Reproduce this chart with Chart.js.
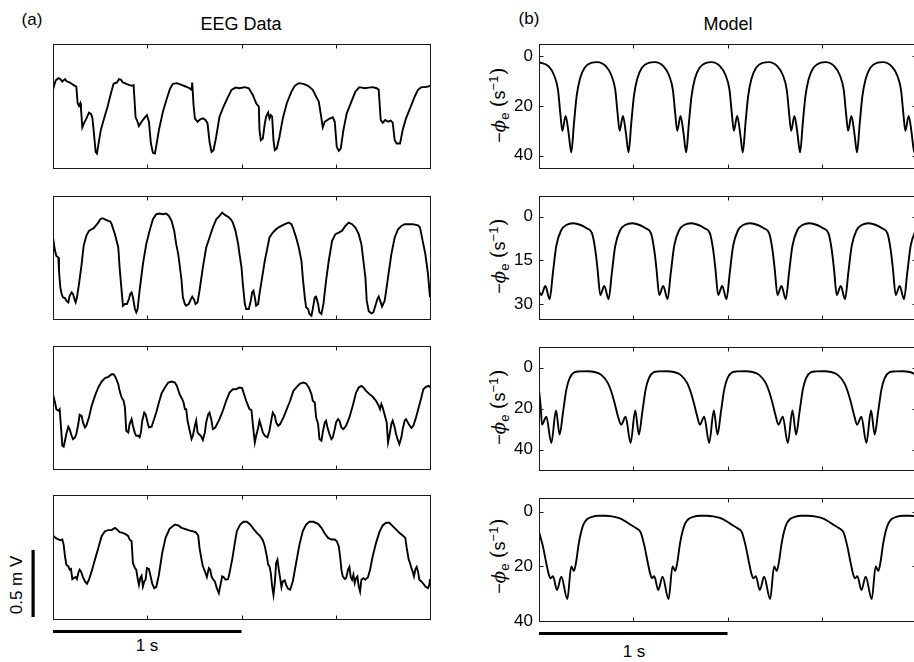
<!DOCTYPE html>
<html>
<head>
<meta charset="utf-8">
<script src="https://cdn.jsdelivr.net/npm/chart.js@4.4.1/dist/chart.umd.min.js"></script>
<style>
html, body { margin: 0; padding: 0; width: 914px; height: 662px; overflow: hidden; background: #fff; }
body { position: relative; font-family: "Liberation Sans", Arial, sans-serif; color: #000; }
canvas { position: absolute; }
.t { position: absolute; font-size: 17px; white-space: nowrap; transform: translate(-50%, -50%); }
.t.big { font-size: 18px; }
.yl { position: absolute; font-size: 18px; white-space: nowrap; transform: translate(-50%, -50%) rotate(-90deg); }
.yl i { font-family: "DejaVu Serif", serif; }
.yl sub, .yl sup { font-size: 13px; }
.yl .p { font-family: "DejaVu Serif", serif; font-size: 21px; }
</style>
</head>
<body>
<div class="t" style="left:32px; top:20px">(a)</div>
<div class="t big" style="left:241px; top:24px">EEG Data</div>
<div class="t" style="left:529px; top:19px">(b)</div>
<div class="t big" style="left:728px; top:24px">Model</div>
<div class="yl" style="left:17px; top:585px; font-size:17px">0.5 m V</div>
<div class="t" style="left:147px; top:646px">1 s</div>
<div class="t" style="left:634px; top:652px">1 s</div>
<div class="yl" style="left:499px; top:105px">−<i>ϕ</i><sub>e</sub> <span class="p">(</span>s<sup>−1</sup><span class="p">)</span></div>
<div class="yl" style="left:499px; top:256px">−<i>ϕ</i><sub>e</sub> <span class="p">(</span>s<sup>−1</sup><span class="p">)</span></div>
<div class="yl" style="left:499px; top:407px">−<i>ϕ</i><sub>e</sub> <span class="p">(</span>s<sup>−1</sup><span class="p">)</span></div>
<div class="yl" style="left:499px; top:556px">−<i>ϕ</i><sub>e</sub> <span class="p">(</span>s<sup>−1</sup><span class="p">)</span></div>

<script>
// sample rate of the traces (samples per second); x values below are sample indices
const FS = 283;
const xTickSec = [0.5, 1, 1.5];

// EEG traces, [sample, amplitude in µV above the panel floor]
const eegA = [[0,583],[4,653],[8,670],[11,663],[14,645],[18,663],[21,645],[25,638],[29,625],[33,613],[35,608],[37,483],[39,463],[41,483],[42,445],[44,303],[47,338],[50,368],[54,413],[57,403],[59,378],[61,283],[64,120],[66,108],[68,170],[72,288],[76,358],[82,458],[87,558],[91,628],[96,638],[99,663],[102,658],[105,638],[111,625],[118,613],[121,618],[124,378],[126,358],[129,313],[133,345],[138,378],[141,395],[144,345],[147,183],[150,113],[153,108],[155,163],[159,283],[165,420],[171,520],[176,595],[180,628],[186,633],[193,620],[199,608],[205,595],[208,583],[209,638],[211,470],[213,370],[217,345],[221,363],[225,370],[229,358],[232,333],[235,195],[238,120],[241,133],[245,233],[250,383],[256,458],[263,533],[268,583],[274,600],[280,595],[288,603],[294,595],[300,545],[305,483],[309,458],[310,283],[312,208],[315,220],[318,333],[320,383],[323,413],[325,370],[327,395],[329,383],[331,208],[333,133],[336,145],[340,233],[345,370],[351,483],[358,570],[363,613],[369,633],[376,628],[383,613],[390,583],[395,533],[399,495],[403,370],[405,303],[408,345],[412,358],[416,370],[420,378],[423,345],[426,158],[429,128],[432,145],[436,283],[441,408],[448,495],[454,570],[460,603],[468,595],[474,600],[480,603],[486,595],[489,583],[492,358],[495,338],[499,358],[503,345],[507,353],[510,338],[513,208],[516,183],[521,183],[525,283],[530,370],[536,445],[543,533],[548,583],[553,603],[559,603],[563,608],[566,613]];

const eegB = [[0,613],[3,513],[5,475],[8,463],[9,363],[11,238],[13,188],[15,163],[18,158],[20,138],[23,125],[25,175],[28,200],[30,188],[33,138],[34,125],[36,163],[39,263],[43,413],[46,550],[50,625],[54,663],[58,675],[61,683],[64,700],[68,725],[71,750],[74,758],[78,750],[83,738],[86,733],[88,713],[93,638],[98,538],[100,388],[103,213],[105,100],[108,113],[111,113],[114,150],[116,188],[118,200],[120,163],[123,75],[125,50],[127,75],[130,213],[135,413],[140,563],[145,663],[150,750],[155,788],[160,793],[165,788],[170,793],[174,775],[178,738],[182,663],[185,563],[188,488],[190,413],[193,288],[195,163],[198,113],[200,100],[204,113],[207,150],[209,168],[212,143],[214,113],[217,125],[220,213],[225,388],[230,538],[235,613],[240,688],[245,750],[250,775],[254,800],[258,783],[263,768],[267,750],[270,725],[274,663],[278,563],[280,488],[283,388],[285,263],[288,113],[290,75],[294,75],[297,138],[299,200],[301,213],[303,163],[305,100],[308,113],[310,188],[314,313],[318,438],[322,538],[325,613],[330,650],[335,675],[340,693],[348,713],[354,725],[358,713],[361,675],[365,613],[369,538],[373,438],[375,313],[378,163],[380,88],[383,75],[385,38],[388,25],[390,75],[393,163],[395,168],[398,113],[400,50],[403,38],[406,113],[410,288],[414,438],[419,588],[424,638],[429,650],[434,663],[439,700],[444,725],[449,713],[454,688],[459,638],[463,563],[466,438],[469,313],[471,138],[474,58],[478,43],[481,50],[484,100],[487,150],[489,168],[492,125],[494,93],[498,138],[503,313],[508,488],[513,613],[518,675],[523,700],[528,713],[533,713],[540,713],[548,705],[551,688],[555,588],[559,488],[563,338],[566,163]];

const eegC = [[0,563],[3,500],[5,450],[8,438],[10,450],[12,313],[14,175],[16,168],[18,213],[20,263],[23,318],[25,300],[28,250],[30,225],[33,238],[35,263],[38,338],[40,408],[43,400],[45,350],[48,313],[50,325],[54,388],[58,475],[63,550],[68,613],[73,658],[78,683],[83,693],[88,713],[91,713],[94,688],[98,638],[100,588],[103,538],[106,513],[108,463],[110,288],[113,275],[115,338],[118,375],[120,325],[123,268],[125,250],[128,250],[130,238],[132,275],[134,363],[137,425],[139,413],[142,350],[144,313],[148,318],[151,363],[155,425],[159,500],[163,568],[168,613],[173,650],[178,658],[183,650],[186,625],[190,563],[194,525],[196,500],[198,450],[200,450],[202,363],[205,293],[208,225],[210,250],[213,325],[215,363],[217,275],[219,263],[222,250],[225,218],[228,275],[230,350],[233,413],[235,425],[238,363],[240,300],[243,308],[245,325],[250,375],[255,438],[260,513],[265,575],[270,600],[275,600],[280,613],[284,608],[286,575],[290,513],[293,475],[295,450],[298,443],[300,338],[303,200],[305,250],[308,308],[310,363],[313,313],[315,275],[318,250],[322,238],[325,288],[328,375],[330,425],[333,400],[335,350],[338,325],[341,338],[346,388],[351,450],[356,513],[361,588],[366,618],[371,643],[376,650],[380,643],[384,613],[388,563],[390,513],[393,500],[395,388],[398,338],[400,225],[403,213],[405,275],[408,350],[410,363],[412,313],[415,263],[418,225],[420,238],[423,300],[425,350],[428,375],[430,363],[433,313],[436,300],[440,325],[445,388],[450,475],[455,575],[459,613],[463,625],[466,613],[470,588],[475,563],[480,543],[485,513],[489,475],[491,450],[493,488],[495,463],[497,425],[499,388],[501,350],[503,200],[505,250],[508,338],[510,363],[513,313],[515,263],[518,213],[520,188],[523,238],[525,300],[528,363],[530,375],[534,338],[538,308],[541,325],[545,388],[549,463],[553,538],[556,600],[560,618],[564,625],[566,613]];

const eegD = [[0,623],[4,605],[8,593],[11,588],[14,593],[16,555],[18,468],[20,405],[23,393],[25,368],[27,373],[29,298],[31,305],[34,313],[36,298],[38,343],[40,368],[42,355],[45,313],[48,280],[51,263],[54,293],[58,355],[63,443],[68,530],[73,618],[78,655],[83,663],[88,663],[93,680],[96,668],[100,648],[105,643],[110,630],[113,618],[115,593],[118,580],[120,418],[123,380],[125,368],[127,305],[129,255],[131,305],[133,323],[135,243],[137,280],[139,293],[141,380],[144,373],[146,330],[149,263],[152,230],[155,238],[159,330],[164,493],[169,605],[175,673],[183,705],[188,698],[193,680],[198,673],[203,663],[209,655],[214,648],[218,623],[220,530],[223,443],[225,393],[228,355],[231,313],[234,380],[236,368],[238,318],[240,298],[243,280],[246,230],[249,193],[251,243],[254,318],[256,313],[259,293],[263,298],[265,343],[269,443],[273,568],[276,655],[281,705],[286,725],[291,725],[296,705],[301,673],[306,643],[311,618],[315,588],[318,543],[321,468],[323,405],[325,393],[327,343],[329,243],[331,180],[333,268],[335,418],[337,443],[339,368],[341,305],[343,238],[345,280],[348,288],[350,255],[353,225],[356,218],[360,280],[365,418],[370,555],[375,655],[380,705],[385,725],[391,725],[398,710],[403,680],[408,638],[413,605],[418,593],[423,593],[426,580],[429,543],[431,468],[433,368],[435,318],[438,298],[440,305],[443,368],[445,388],[447,313],[449,293],[451,330],[453,268],[455,305],[457,318],[459,243],[461,205],[463,293],[466,305],[469,293],[473,313],[476,368],[480,468],[485,568],[490,648],[495,698],[500,718],[505,718],[510,693],[515,668],[520,643],[525,623],[529,605],[531,530],[534,443],[536,418],[538,380],[540,355],[542,318],[544,368],[546,388],[548,355],[550,293],[553,280],[556,263],[559,243],[563,230],[565,255],[566,298]];

// model traces, [sample, -phi_e in 1/s]
const modelA = [[0,2.3],[14.5,4],[22.5,7.5],[28.5,13.5],[32,23],[35,30],[40,24],[44.5,31],[48.5,38.7],[52.5,27],[56.5,16],[61.5,9],[68.5,4.6],[78.5,2.6],
  [87.5,2.3],[100.5,4],[108.5,7.5],[114.5,13.5],[118,23],[121,30],[126,24],[130.5,31],[134.5,38.7],[138.5,27],[142.5,16],[147.5,9],[154.5,4.6],[164.5,2.6],
  [174,2.3],[187,4],[195,7.5],[201,13.5],[204.5,23],[207.5,30],[212.5,24],[217,31],[221,38.7],[225,27],[229,16],[234,9],[241,4.6],[251,2.6],
  [259,2.3],[272,4],[280,7.5],[286,13.5],[289.5,23],[292.5,30],[297.5,24],[302,31],[306,38.7],[310,27],[314,16],[319,9],[326,4.6],[336,2.6],
  [345,2.3],[358,4],[366,7.5],[372,13.5],[375.5,23],[378.5,30],[383.5,24],[388,31],[392,38.7],[396,27],[400,16],[405,9],[412,4.6],[422,2.6],
  [430.5,2.3],[443.5,4],[451.5,7.5],[457.5,13.5],[461,23],[464,30],[469,24],[473.5,31],[477.5,38.7],[481.5,27],[485.5,16],[490.5,9],[497.5,4.6],[507.5,2.6],
  [516.5,2.3],[529.5,4],[537.5,7.5],[543.5,13.5],[547,23],[550,30],[555,24],[559.5,31],[563.5,38.7],[566,32]];

const modelB = [[0,25.5],[3.5,26.8],[9.5,23.7],[16,28.2],[21,19],[26,10],[33.5,4.6],[41,2.9],[51.5,2.3],
  [62.5,2.9],[71.5,4],[79.5,5.7],[84.5,11.4],[88,18.2],[92,26.8],[98,23.7],[104.5,28.2],[109.5,19],[114.5,10],[122,4.6],[129.5,2.9],[140,2.3],
  [151,2.9],[160,4],[168,5.7],[173,11.4],[176.5,18.2],[180.5,26.8],[186.5,23.7],[193,28.2],[198,19],[203,10],[210.5,4.6],[218,2.9],[228.5,2.3],
  [239.5,2.9],[248.5,4],[256.5,5.7],[261.5,11.4],[265,18.2],[269,26.8],[275,23.7],[281.5,28.2],[286.5,19],[291.5,10],[299,4.6],[306.5,2.9],[317,2.3],
  [328.5,2.9],[337.5,4],[345.5,5.7],[350.5,11.4],[354,18.2],[358,26.8],[364,23.7],[370.5,28.2],[375.5,19],[380.5,10],[388,4.6],[395.5,2.9],[406,2.3],
  [417.5,2.9],[426.5,4],[434.5,5.7],[439.5,11.4],[443,18.2],[447,26.8],[453,23.7],[459.5,28.2],[464.5,19],[469.5,10],[477,4.6],[484.5,2.9],[495,2.3],
  [506,2.9],[515,4],[523,5.7],[528,11.4],[531.5,18.2],[535.5,26.8],[541.5,23.7],[548,28.2],[553,19],[558,10],[566,4.4]];

const modelC = [[0,11],[2.5,19],[4.5,27.9],[11,24],[18.5,36.8],[25.5,21],[31,32.7],[36,22],[41,10.9],[46,5.2],[53.5,2.3],[60.5,1.9],[73.5,1.8],[83.5,2.2],[93.5,3.6],[103.5,7.6],[108.5,11.7],[113.5,17.3],[118.5,23.8],
  [123.5,27.9],[130,24],[137.5,36.8],[144.5,21],[150,32.7],[155,22],[160,10.9],[165,5.2],[172.5,2.3],[179.5,1.9],[192.5,1.8],[202.5,2.2],[212.5,3.6],[222.5,7.6],[227.5,11.7],[232.5,17.3],[237.5,23.8],
  [241.5,27.9],[248,24],[255.5,36.8],[262.5,21],[268,32.7],[273,22],[278,10.9],[283,5.2],[290.5,2.3],[297.5,1.9],[310.5,1.8],[320.5,2.2],[330.5,3.6],[340.5,7.6],[345.5,11.7],[350.5,17.3],[355.5,23.8],
  [359.5,27.9],[366,24],[373.5,36.8],[380.5,21],[386,32.7],[391,22],[396,10.9],[401,5.2],[408.5,2.3],[415.5,1.9],[428.5,1.8],[438.5,2.2],[448.5,3.6],[458.5,7.6],[463.5,11.7],[468.5,17.3],[473.5,23.8],
  [477.5,27.9],[484,24],[491.5,36.8],[498.5,21],[504,32.7],[509,22],[514,10.9],[519,5.2],[526.5,2.3],[533.5,1.9],[546.5,1.8],[556.5,2.2],[566,3.4]];

const modelD = [[0,7.3],[6,12.8],[11,18.9],[15,23.2],[17.5,24.4],[21,23.6],[27,28.7],[33.5,23.8],[42.5,32],[48.5,20],[52.5,21.7],[56,18],[59.5,12],[63.5,7.2],[67.5,4.3],[72.5,2.7],[79.5,1.9],[89.5,1.5],[99.5,1.5],[109.5,1.7],[119.5,2.3],[129.5,3.5],[137.5,4.8],[145.5,6],[152.5,7.5],[158.5,12.8],[163.5,18.9],[167.5,23.2],
  [169.5,24.4],[173,23.6],[179,28.7],[185.5,23.8],[194.5,32],[200.5,20],[204.5,21.7],[208,18],[211.5,12],[215.5,7.2],[219.5,4.3],[224.5,2.7],[231.5,1.9],[241.5,1.5],[251.5,1.5],[261.5,1.7],[271.5,2.3],[281.5,3.5],[289.5,4.8],[297.5,6],[304.5,7.5],[310.5,12.8],[315.5,18.9],[319.5,23.2],
  [322,24.4],[325.5,23.6],[331.5,28.7],[338,23.8],[347,32],[353,20],[357,21.7],[360.5,18],[364,12],[368,7.2],[372,4.3],[377,2.7],[384,1.9],[394,1.5],[404,1.5],[414,1.7],[424,2.3],[434,3.5],[442,4.8],[450,6],[457,7.5],[463,12.8],[468,18.9],[472,23.2],
  [474.5,24.4],[478,23.6],[484,28.7],[490.5,23.8],[499.5,32],[505.5,20],[509.5,21.7],[513,18],[516.5,12],[520.5,7.2],[524.5,4.3],[529.5,2.7],[536.5,1.9],[546.5,1.5],[556.5,1.5],[566,1.7]];

// y tick labels of the model panels
const ticksA = [0, 20, 40];
const ticksB = [0, 15, 30];
const ticksC = [0, 20, 40];
const ticksD = [0, 20, 40];

// axes box, inward ticks and scale bars
const frame = {
  id: 'frame',
  afterDatasetsDraw(chart, args, o) {
    const { ctx, chartArea: a, scales: { x, y } } = chart;
    const L = Math.round(a.left) + 0.5, R = Math.round(a.right) + 0.5;
    const T = Math.round(a.top) + 0.5, B = Math.round(a.bottom) + 0.5;
    ctx.save();
    ctx.strokeStyle = '#1a1a1a';
    ctx.lineWidth = 1;
    ctx.strokeRect(L, T, R - L, B - T);
    ctx.beginPath();
    xTickSec.forEach(s => {
      const px = Math.round(x.getPixelForValue(s * FS)) + 0.5;
      ctx.moveTo(px, T); ctx.lineTo(px, T + 4);
      ctx.moveTo(px, B); ctx.lineTo(px, B - 4);
    });
    (o.yTicks || []).forEach(v => {
      const py = Math.round(y.getPixelForValue(v)) + 0.5;
      ctx.moveTo(L, py); ctx.lineTo(L + 4, py);
      ctx.moveTo(R, py); ctx.lineTo(R - 4, py);
    });
    ctx.stroke();
    ctx.fillStyle = '#000';
    if (o.timeBar) {
      const x0 = x.getPixelForValue(0), x1 = x.getPixelForValue(o.timeBar * FS);
      ctx.fillRect(x0, a.bottom + 11, x1 - x0, 3);
    }
    if (o.voltBar) {
      const y0 = y.getPixelForValue(o.voltBar[0]), y1 = y.getPixelForValue(o.voltBar[1]);
      ctx.fillRect(a.left - 21.5, y1, 3.2, y0 - y1);
    }
    ctx.restore();
  }
};

function panel(series, box, opt) {
  const [l, t, w, h] = box;
  const cv = document.createElement('canvas');
  const yw = opt.ticks ? l - 470 : 0;
  const pad = opt.ticks
    ? { left: 0, right: 4, top: 4, bottom: 18 }
    : { left: opt.padL || 4, right: 4, top: 4, bottom: opt.padB || 4 };
  const cl = opt.ticks ? 470 : l - pad.left;
  cv.width = yw + pad.left + w + pad.right;
  cv.height = pad.top + h + pad.bottom;
  cv.style.left = cl + 'px';
  cv.style.top = (t - pad.top) + 'px';
  document.body.appendChild(cv);

  const yScale = {
    min: opt.min, max: opt.max, reverse: !!opt.reverse,
    display: !!opt.ticks,
    grid: { display: false, drawTicks: false },
    border: { display: false },
    ticks: { color: '#000', padding: 6, font: { family: 'Liberation Sans', size: 17 } }
  };
  if (opt.ticks) {
    yScale.afterBuildTicks = s => { s.ticks = opt.ticks.map(v => ({ value: v })); };
    yScale.afterFit = s => { s.width = yw; s.paddingTop = 0; s.paddingBottom = 0; s.paddingLeft = 0; s.paddingRight = 0; };
  }

  return new Chart(cv, {
    type: 'line',
    data: {
      datasets: [{
        data: series.map(([n, v]) => ({ x: n, y: v })),
        borderColor: '#000',
        borderWidth: 1.9,
        pointRadius: 0,
        fill: false,
        tension: 0,
        cubicInterpolationMode: opt.smooth ? 'monotone' : 'default'
      }]
    },
    options: {
      responsive: false,
      animation: false,
      events: [],
      layout: { padding: pad },
      plugins: {
        legend: { display: false },
        tooltip: { enabled: false },
        frame: { yTicks: opt.ticks, timeBar: opt.timeBar, voltBar: opt.voltBar }
      },
      scales: {
        x: { type: 'linear', min: 0, max: 566, display: false },
        y: yScale
      }
    },
    plugins: [frame]
  });
}

// EEG panels (amplitude axis in µV)
panel(eegA, [53, 44, 377, 124], { min: 0, max: 925 });
panel(eegB, [53, 196, 377, 123], { min: 0, max: 925 });
panel(eegC, [53, 346, 377, 123], { min: 0, max: 925 });
panel(eegD, [53, 495, 377, 124], { min: 0, max: 925, padL: 26, padB: 20, timeBar: 1, voltBar: [15, 515] });

// model panels
panel(modelA, [539, 44, 377, 124], { min: -5, max: 45, reverse: true, ticks: ticksA, smooth: true });
panel(modelB, [539, 196, 377, 123], { min: -7, max: 35, reverse: true, ticks: ticksB, smooth: true });
panel(modelC, [539, 347, 377, 123], { min: -10, max: 50, reverse: true, ticks: ticksC, smooth: true });
panel(modelD, [539, 498, 377, 123], { min: -5, max: 40, reverse: true, ticks: ticksD, smooth: true, timeBar: 1 });
</script>
</body>
</html>
